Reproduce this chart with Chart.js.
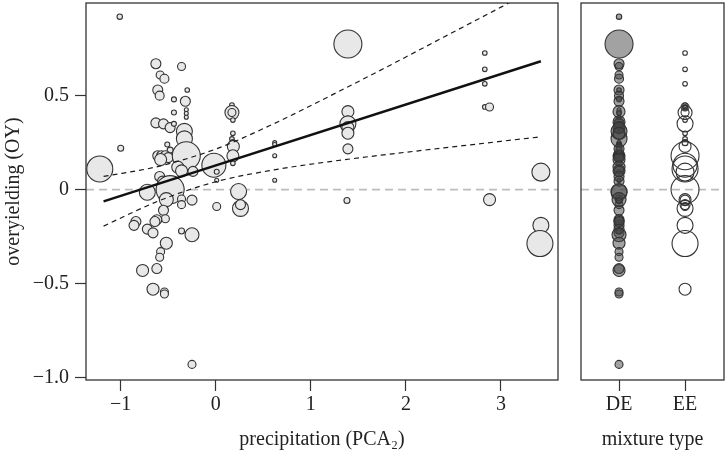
<!DOCTYPE html>
<html>
<head>
<meta charset="utf-8">
<script src="https://cdn.jsdelivr.net/npm/chart.js@4.4.1/dist/chart.umd.min.js"></script>
<style>
  body { margin: 0; background: #fff; }
  #wrap { position: relative; width: 726px; height: 458px; }
  #leftChart { position: absolute; left: 0; top: 0; }
  #rightChart { position: absolute; left: 562px; top: 0; }
</style>
</head>
<body>
<div id="wrap">
  <canvas id="leftChart" width="562" height="458"></canvas>
  <canvas id="rightChart" width="164" height="458"></canvas>
</div>
<script>
// values
const precipX = [
  -1.01, -0.63, -0.36, -0.585, -0.54, -0.61, -0.59, -0.30, -0.44, -0.32,
  -0.31, -0.31, -0.31, -0.44, 0.17, 0.17, 0.17, 0.17, 0.18, -0.63,
  -0.55, -0.48, -0.44, -0.31, -0.33, -0.33, -1.0, -0.51, -0.48, 0.18,
  0.17, 0.18, 0.185, 0.62, 0.62, 0.62, 0.62, 0.18, 0.18, -0.61,
  -0.57, -0.53, -0.50, -0.58, -0.31, -1.22, -0.02, 0.01, 0.01, -0.40,
  -0.36, -0.24, -0.59, -0.56, -0.48, -0.72, 0.24, 0.26, 0.26, 0.01,
  -0.25, -0.36, -0.36, -0.52, -0.55, -0.53, -0.84, -0.86, -0.62, -0.64,
  -0.72, -0.66, -0.36, -0.25, -0.52, -0.58, -0.59, -0.77, -0.62, -0.66,
  -0.54, -0.54, -0.25, 1.39, 2.83, 2.83, 2.83, 2.83, 2.88, 1.39,
  1.39, 1.39, 1.39, 1.39, 1.39, 3.42, 1.38, 2.88, 3.42, 3.41
];
const overyield = [
  0.92, 0.67, 0.655, 0.61, 0.59, 0.53, 0.50, 0.53, 0.48, 0.47,
  0.425, 0.405, 0.385, 0.41, 0.45, 0.435, 0.41, 0.41, 0.37, 0.355,
  0.35, 0.33, 0.35, 0.33, 0.31, 0.27, 0.22, 0.24, 0.21, 0.30,
  0.27, 0.25, 0.23, 0.25, 0.24, 0.18, 0.05, 0.18, 0.14, 0.18,
  0.18, 0.18, 0.17, 0.16, 0.18, 0.11, 0.13, 0.095, 0.05, 0.12,
  0.10, 0.097, 0.07, 0.045, 0.0, -0.014, -0.01, -0.10, -0.08, -0.09,
  -0.056, -0.05, -0.08, -0.053, -0.11, -0.155, -0.17, -0.19, -0.16, -0.17,
  -0.21, -0.23, -0.22, -0.24, -0.285, -0.33, -0.36, -0.43, -0.42, -0.53,
  -0.545, -0.555, -0.93, 0.775, 0.727, 0.64, 0.563, 0.44, 0.44, 0.415,
  0.36, 0.35, 0.33, 0.30, 0.217, 0.093, -0.058, -0.053, -0.19, -0.287
];
const bubbleR = [
  2.7, 5, 4, 4, 4.5, 5, 4.5, 2.3, 2.5, 5,
  2, 2, 2, 2.5, 2.3, 2.3, 7, 4, 2.3, 5,
  5, 5, 2.5, 2.3, 8, 8, 3, 2.5, 3, 2.3,
  2.3, 3, 6, 2, 2, 2, 2, 6, 2.3, 5,
  5, 5, 5, 6, 14, 13, 12, 2.5, 2, 6,
  6, 5, 5, 5, 14, 8, 8, 8, 5, 4,
  5, 4, 4, 7, 5, 4, 5, 5, 5, 5,
  5, 5, 3, 7, 6, 4, 4, 6, 5, 6,
  4, 4, 4, 14, 2.3, 2.3, 2.3, 2.3, 4, 6,
  6, 8, 6, 6, 5, 9, 3, 6, 8, 13
];
const mixType = [
  'DE','DE','DE','DE','DE','DE','DE','DE','DE','DE',
  'DE','DE','DE','DE','EE','EE','EE','EE','EE','DE',
  'DE','DE','DE','DE','DE','DE','DE','DE','DE','EE',
  'EE','EE','EE','DE','DE','DE','DE','DE','DE','DE',
  'DE','DE','DE','DE','EE','EE','EE','DE','DE','DE',
  'DE','DE','DE','DE','EE','DE','DE','EE','EE','EE',
  'EE','DE','DE','DE','DE','DE','DE','DE','DE','DE',
  'DE','DE','DE','DE','DE','DE','DE','DE','DE','EE',
  'DE','DE','DE','DE','EE','EE','EE','EE','EE','DE',
  'DE','EE','DE','DE','DE','EE','DE','EE','EE','EE'
];
const mixCategories = ['DE', 'EE'];

// regression line and its confidence band
const fitX = [-1.18, 3.42];
const fitY = [-0.062, 0.683];
const ciX = [-1.18, -0.6, 0, 0.6, 1.2, 1.8, 2.4, 3.0, 3.42];
const ciUpper = [0.070, 0.124, 0.216, 0.348, 0.498, 0.653, 0.812, 0.971, 1.083];
const ciLower = [-0.194, -0.060, 0.042, 0.104, 0.149, 0.187, 0.222, 0.257, 0.281];

// tick labels
const xTicks = [-1, 0, 1, 2, 3];
const yTicks = [-1, -0.5, 0, 0.5];

const xRange = [-1.365, 3.60];
const yRange = [-1.013, 0.993];
const catRange = [0.424, 2.59];

const serif = "'Liberation Serif', 'Times New Roman', serif";
const txt = '#222';
const axisFont = { family: serif, size: 20 };

function fmt(v, dec) {
    if (v === 0) return '0';
    const s = Math.abs(v).toFixed(dec);
    return v < 0 ? '\u2212' + s : s;
}

// draws the box round the plot area
const framePlugin = {
    id: 'frame',
    afterDatasetsDraw(chart) {
        const a = chart.chartArea;
        const c = chart.ctx;
        c.save();
        c.strokeStyle = '#333';
        c.lineWidth = 1.3;
        c.strokeRect(a.left, a.top, a.right - a.left, a.bottom - a.top);
        c.restore();
    }
};

const points = precipX.map((x, i) => ({ x: x, y: overyield[i], r: bubbleR[i] }));

function lineSet(xs, ys, extra) {
    return Object.assign({
        type: 'line',
        data: xs.map((x, i) => ({ x: x, y: ys[i] })),
        pointRadius: 0,
        fill: false,
        borderColor: '#1a1a1a',
        borderWidth: 1.2
    }, extra);
}

function yScale(display) {
    return {
        type: 'linear',
        display: display,
        min: yRange[0],
        max: yRange[1],
        afterBuildTicks: s => { s.ticks = yTicks.map(v => ({ value: v })); },
        afterFit: s => {
            s.width = display ? 86 : 0;
            s.paddingTop = 0;
            s.paddingBottom = 0;
        },
        border: { display: false },
        grid: { drawOnChartArea: false, drawTicks: true, tickLength: 11, tickColor: '#333', tickWidth: 1.2 },
        ticks: { font: axisFont, color: txt, padding: 6, callback: v => fmt(v, 1) },
        title: { display: true, text: 'overyielding (OY)', font: axisFont, color: txt, padding: { top: 2, bottom: 0 } }
    };
}

function xScale(range, ticks, label, title) {
    return {
        type: 'linear',
        min: range[0],
        max: range[1],
        afterBuildTicks: s => { s.ticks = ticks.map(v => ({ value: v })); },
        afterFit: s => {
            s.height = 78;
            s.paddingLeft = 0;
            s.paddingRight = 0;
        },
        border: { display: false },
        grid: { drawOnChartArea: false, drawTicks: true, tickLength: 11, tickColor: '#333', tickWidth: 1.2 },
        ticks: { font: axisFont, color: txt, padding: 2, maxRotation: 0, autoSkip: false, callback: label },
        title: { display: true, text: title, font: axisFont, color: txt, padding: { top: 0, bottom: 6 } }
    };
}

const common = {
    responsive: false,
    animation: false,
    events: [],
    plugins: { legend: { display: false }, tooltip: { enabled: false } }
};

new Chart(document.getElementById('leftChart'), {
    type: 'scatter',
    data: {
        datasets: [
            lineSet(xRange, [0, 0], { borderColor: '#bdbdbd', borderWidth: 1.6, borderDash: [8, 5], order: 3 }),
            {
                type: 'bubble',
                data: points,
                backgroundColor: '#e8e8e8',
                borderColor: '#333',
                borderWidth: 1.1,
                order: 2
            },
            lineSet(fitX, fitY, { borderWidth: 2.4, borderColor: '#111', order: 1 }),
            lineSet(ciX, ciUpper, { borderDash: [5, 4], cubicInterpolationMode: 'monotone', order: 1 }),
            lineSet(ciX, ciLower, { borderDash: [5, 4], cubicInterpolationMode: 'monotone', order: 1 })
        ]
    },
    options: Object.assign({}, common, {
        layout: { autoPadding: false, padding: { top: 3, right: 4, bottom: 0, left: 0 } },
        scales: {
            x: xScale(xRange, xTicks, v => fmt(v, 0), 'precipitation (PCA\u2082)'),
            y: yScale(true)
        }
    }),
    plugins: [framePlugin]
});

// right panel: same points split by mixture type
const dePoints = points.filter((p, i) => mixType[i] === 'DE').map(p => ({ x: 1, y: p.y, r: p.r }));
const eePoints = points.filter((p, i) => mixType[i] === 'EE').map(p => ({ x: 2, y: p.y, r: p.r }));

new Chart(document.getElementById('rightChart'), {
    type: 'scatter',
    data: {
        datasets: [
            lineSet(catRange, [0, 0], { borderColor: '#bdbdbd', borderWidth: 1.6, borderDash: [8, 5], order: 3 }),
            {
                type: 'bubble',
                data: dePoints,
                backgroundColor: 'rgba(70,70,70,0.5)',
                borderColor: '#333',
                borderWidth: 1.1,
                order: 2
            },
            {
                type: 'bubble',
                data: eePoints,
                backgroundColor: 'rgba(255,255,255,0)',
                borderColor: '#333',
                borderWidth: 1.1,
                order: 1
            }
        ]
    },
    options: Object.assign({}, common, {
        layout: { autoPadding: false, padding: { top: 3, right: 2, bottom: 0, left: 19 } },
        scales: {
            x: xScale(catRange, [1, 2], v => mixCategories[Math.round(v) - 1], 'mixture type'),
            y: yScale(false)
        }
    }),
    plugins: [framePlugin]
});
</script>
</body>
</html>
